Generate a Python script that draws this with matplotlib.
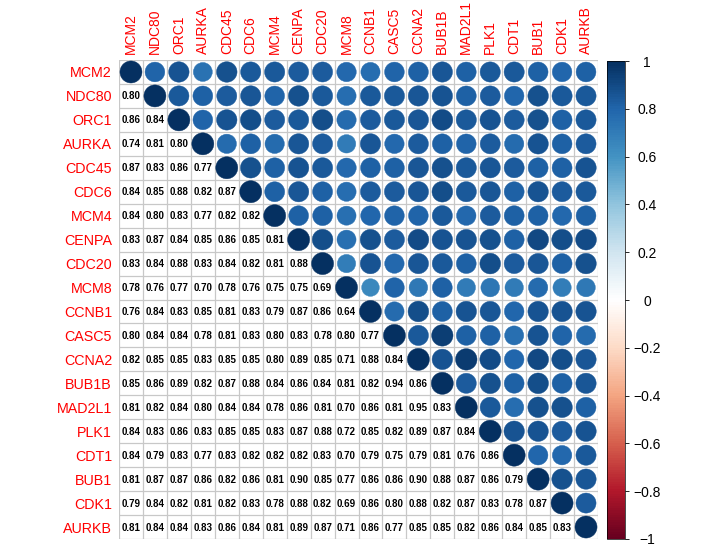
import numpy as np
import matplotlib
matplotlib.use("Agg")
import matplotlib.pyplot as plt
from matplotlib.colors import LinearSegmentedColormap, Normalize
from matplotlib.patches import Circle
from matplotlib.cm import ScalarMappable

plt.rcParams['font.family'] = ['Liberation Sans', 'DejaVu Sans']

genes = ["MCM2", "NDC80", "ORC1", "AURKA", "CDC45", "CDC6", "MCM4", "CENPA",
         "CDC20", "MCM8", "CCNB1", "CASC5", "CCNA2", "BUB1B", "MAD2L1", "PLK1",
         "CDT1", "BUB1", "CDK1", "AURKB"]

# lower triangle of the correlation matrix (row i, columns 0..i-1)
lower = [
    [],
    [0.80],
    [0.86, 0.84],
    [0.74, 0.81, 0.80],
    [0.87, 0.83, 0.86, 0.77],
    [0.84, 0.85, 0.88, 0.82, 0.87],
    [0.84, 0.80, 0.83, 0.77, 0.82, 0.82],
    [0.83, 0.87, 0.84, 0.85, 0.86, 0.85, 0.81],
    [0.83, 0.84, 0.88, 0.83, 0.84, 0.82, 0.81, 0.88],
    [0.78, 0.76, 0.77, 0.70, 0.78, 0.76, 0.75, 0.75, 0.69],
    [0.76, 0.84, 0.83, 0.85, 0.81, 0.83, 0.79, 0.87, 0.86, 0.64],
    [0.80, 0.84, 0.84, 0.78, 0.81, 0.83, 0.80, 0.83, 0.78, 0.80, 0.77],
    [0.82, 0.85, 0.85, 0.83, 0.85, 0.85, 0.80, 0.89, 0.85, 0.71, 0.88, 0.84],
    [0.85, 0.86, 0.89, 0.82, 0.87, 0.88, 0.84, 0.86, 0.84, 0.81, 0.82, 0.94, 0.86],
    [0.81, 0.82, 0.84, 0.80, 0.84, 0.84, 0.78, 0.86, 0.81, 0.70, 0.86, 0.81, 0.95, 0.83],
    [0.84, 0.83, 0.86, 0.83, 0.85, 0.85, 0.83, 0.87, 0.88, 0.72, 0.85, 0.82, 0.89, 0.87, 0.84],
    [0.84, 0.79, 0.83, 0.77, 0.83, 0.82, 0.82, 0.82, 0.83, 0.70, 0.79, 0.75, 0.79, 0.81, 0.76, 0.86],
    [0.81, 0.87, 0.87, 0.86, 0.82, 0.86, 0.81, 0.90, 0.85, 0.77, 0.86, 0.86, 0.90, 0.88, 0.87, 0.86, 0.79],
    [0.79, 0.84, 0.82, 0.81, 0.82, 0.83, 0.78, 0.88, 0.82, 0.69, 0.86, 0.80, 0.88, 0.82, 0.87, 0.83, 0.78, 0.87],
    [0.81, 0.84, 0.84, 0.83, 0.86, 0.84, 0.81, 0.89, 0.87, 0.71, 0.86, 0.77, 0.85, 0.85, 0.82, 0.86, 0.84, 0.85, 0.83],
]

n = len(genes)
corr = np.eye(n)
for i, row in enumerate(lower):
    for j, v in enumerate(row):
        corr[i, j] = v
        corr[j, i] = v

cmap = LinearSegmentedColormap.from_list("rdbu2", [
    "#67001F", "#B2182B", "#D6604D", "#F4A582", "#FDDBC7", "#FFFFFF",
    "#D1E5F0", "#92C5DE", "#4393C3", "#2166AC", "#053061"], N=200)
norm = Normalize(-1, 1)

fig = plt.figure(figsize=(7.16, 5.48), dpi=100)
W, H = 716, 548
ax = fig.add_axes([119 / W, (H - 539) / H, 479 / W, 479 / H])
ax.set_xlim(0, n)
ax.set_ylim(n, 0)

# grid
for k in range(n + 1):
    ax.plot([k, k], [0, n], color="#C8C8C8", lw=0.9, zorder=1)
    ax.plot([0, n], [k, k], color="#C8C8C8", lw=0.9, zorder=1)

for i in range(n):
    for j in range(n):
        r = corr[i, j]
        if j >= i:
            c = cmap(norm(r))
            ax.add_patch(Circle((j + 0.5, i + 0.5), 0.46 * np.sqrt(abs(r)),
                                facecolor=c, edgecolor=c, lw=0.3, zorder=2))
        else:
            ax.text(j + 0.5, i + 0.52, f"{r:.2f}", ha="center", va="center",
                    fontsize=7, fontweight="bold", color="black", zorder=3)

for s in ax.spines.values():
    s.set_visible(False)
ax.set_xticks(np.arange(n) + 0.5)
ax.set_yticks(np.arange(n) + 0.5)
ax.xaxis.tick_top()
ax.set_xticklabels(genes, rotation=90, color="red", fontsize=10)
ax.set_yticklabels(genes, color="red", fontsize=10.3)
ax.tick_params(axis="x", length=0, pad=4)
ax.tick_params(axis="y", length=0, pad=5)

# colour legend
cax = fig.add_axes([607 / W, (H - 539) / H, 18 / W, 478 / H])
cb = fig.colorbar(ScalarMappable(norm=norm, cmap=cmap), cax=cax)
cb_ticks = [1, 0.8, 0.6, 0.4, 0.2, 0, -0.2, -0.4, -0.6, -0.8, -1]
cb_labels = ["1", "0.8", "0.6", "0.4", "0.2", "0",
             "\u22120.2", "\u22120.4", "\u22120.6", "\u22120.8", "\u22121"]
cb.set_ticks(cb_ticks)
cb.set_ticklabels(cb_labels)
cb.outline.set_linewidth(0.5)
cax.tick_params(length=3, width=0.6, pad=13, labelsize=10)
for lab in cax.get_yticklabels():
    lab.set_ha("center")

fig.savefig("out.png", dpi=100)
